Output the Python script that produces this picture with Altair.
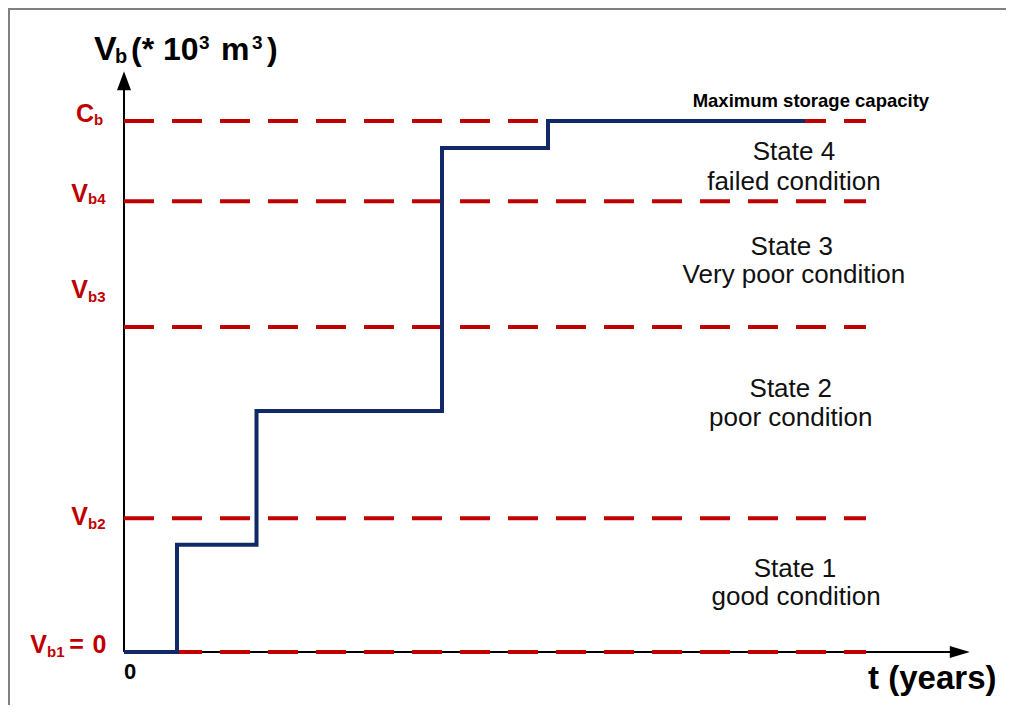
import altair as alt
import pandas as pd

# ---------------- data ----------------
level_names = ["C_b", "V_b4", "V_b3", "V_b2", "V_b1"]
level_values = [100.0, 84.9, 61.2, 25.2, 0.0]
level_start_t = 0.0
level_end_t = 14.0

step_t = [0.0, 1.0, 2.5, 6.0, 8.0, 12.85]
step_v = [0.0, 20.2, 45.4, 94.9, 100.0, 100.0]

axis_x_end = 15.68
axis_y_end = 106.2
arrow_dir = ["up", "right"]
arrow_t = [0.0, 15.77]
arrow_v = [107.6, 0.0]

state_text = ["State 4", "failed condition", "State 3", "Very poor condition",
              "State 2", "poor condition", "State 1", "good condition"]
state_t = [12.64, 12.64, 12.60, 12.64, 12.58, 12.58, 12.66, 12.68]
state_v = [92.66, 87.0, 74.76, 69.49, 48.02, 42.56, 14.12, 8.85]

lab_main = ["C", "V", "V", "V", "V"]
lab_sub = ["b", "b4", "b3", "b2", "b1"]
lab_t = [-0.566, -0.679, -0.679, -0.679, -1.453]
lab_v = [99.8, 84.8, 66.7, 23.9, -0.19]
lab_sub_v = [99.2, 84.4, 65.9, 23.2, -0.94]
eq_text = ["=", "0"]
eq_t = [-0.896, -0.462]
eq_v = [-0.19, -0.19]

blk_text = ["V", "b", "(* 10", "3", "m", "3", ")", "0", "t (years)"]
blk_t = [-0.566, -0.17, 0.132, 1.415, 1.83, 2.415, 2.70, 0.0, 14.04]
blk_v = [111.5, 110.9, 111.5, 113.56, 111.5, 113.56, 111.5, -5.08, -6.97]
blk_fs = [34, 20, 32, 19, 32, 19, 32, 22, 33]

cap_text = ["Maximum storage capacity"]
cap_t = [12.96]
cap_v = [102.6]

# ---------------- styling ----------------
RED = "#c00000"
NAVY = "#0f2a66"
FONT = "Liberation Sans"
W, H = 998, 697
XD = [(8 - 124) / 53, (1006 - 124) / 53]
YD = [(652 - 705) / 5.31, (652 - 8) / 5.31]

xs = alt.Scale(domain=XD, nice=False, zero=False)
ys = alt.Scale(domain=YD, nice=False, zero=False)


def X(f):
    return alt.X(f, type="quantitative", scale=xs, axis=None)


def Y(f):
    return alt.Y(f, type="quantitative", scale=ys, axis=None)


levels_df = pd.DataFrame({"name": level_names, "v": level_values,
                          "t0": level_start_t, "t1": level_end_t})
step_df = pd.DataFrame({"t": step_t, "v": step_v})
axes_df = pd.DataFrame({"t": [0.0, 0.0], "t2": [axis_x_end, 0.0],
                        "v": [0.0, 0.0], "v2": [0.0, axis_y_end]})
arrow_df = pd.DataFrame({"dir": arrow_dir, "t": arrow_t, "v": arrow_v})
state_df = pd.DataFrame({"text": state_text, "t": state_t, "v": state_v})
lab_df = pd.DataFrame({"main": lab_main, "sub": lab_sub, "t": lab_t,
                       "v": lab_v, "vs": lab_sub_v})
eq_df = pd.DataFrame({"text": eq_text, "t": eq_t, "v": eq_v})
blk_df = pd.DataFrame({"text": blk_text, "t": blk_t, "v": blk_v, "fs": blk_fs})
cap_df = pd.DataFrame({"text": cap_text, "t": cap_t, "v": cap_v})

frame_top = alt.Chart(pd.DataFrame({"k": ["top"]})).mark_rule(
    color="#808080", strokeWidth=2
).encode(x=alt.value(0), x2=alt.value(W), y=alt.value(1))
frame_left = alt.Chart(pd.DataFrame({"k": ["left"]})).mark_rule(
    color="#808080", strokeWidth=2
).encode(x=alt.value(1), y=alt.value(0), y2=alt.value(H))

axes = alt.Chart(axes_df).mark_rule(color="black", strokeWidth=2).encode(
    x=X("t"), x2="t2", y=Y("v"), y2="v2")

arrows = alt.Chart(arrow_df).mark_point(filled=True, size=400, opacity=1,
                                        color="black", strokeWidth=0).encode(
    x=X("t"), y=Y("v"),
    shape=alt.Shape("dir:N", scale=alt.Scale(
        domain=["up", "right"],
        range=["M0,-0.95L0.7,0.95L-0.7,0.95Z", "M1,0L-1,-0.6L-1,0.6Z"]),
        legend=None))

dashes = alt.Chart(levels_df).mark_rule(
    color=RED, strokeWidth=4, strokeDash=[30, 18]
).encode(x=X("t0"), x2="t1", y=Y("v"))

step = alt.Chart(step_df).mark_line(
    interpolate="step-after", color=NAVY, strokeWidth=4
).encode(x=X("t"), y=Y("v"), order="t:Q")

states = alt.Chart(state_df).mark_text(
    font=FONT, fontSize=26, align="center", baseline="alphabetic", color="#111111"
).encode(x=X("t"), y=Y("v"), text="text:N")

lab_main_l = alt.Chart(lab_df).mark_text(
    font=FONT, fontSize=25, fontWeight="bold", align="right",
    baseline="alphabetic", color=RED
).encode(x=X("t"), y=Y("v"), text="main:N")

lab_sub_l = alt.Chart(lab_df).mark_text(
    font=FONT, fontSize=15, fontWeight="bold", align="left",
    baseline="alphabetic", color=RED
).encode(x=X("t"), y=Y("vs"), text="sub:N")

eq_l = alt.Chart(eq_df).mark_text(
    font=FONT, fontSize=25, fontWeight="bold", align="center",
    baseline="alphabetic", color=RED
).encode(x=X("t"), y=Y("v"), text="text:N")

blk_l = alt.Chart(blk_df).mark_text(
    font=FONT, fontWeight="bold", align="left", baseline="alphabetic",
    color="black"
).encode(x=X("t"), y=Y("v"), text="text:N",
         size=alt.Size("fs:Q", scale=None, legend=None))

cap_l = alt.Chart(cap_df).mark_text(
    font=FONT, fontSize=18.5, fontWeight="bold", align="center",
    baseline="alphabetic", color="black"
).encode(x=X("t"), y=Y("v"), text="text:N")

chart = alt.layer(
    frame_top, frame_left, axes, arrows, dashes, step, states,
    lab_main_l, lab_sub_l, eq_l, blk_l, cap_l
).properties(
    width=W, height=H, padding=0,
    autosize=alt.AutoSizeParams(type="none")
).configure_view(stroke="transparent", strokeWidth=0)

chart.save("out.html", embed_options={"renderer": "svg", "actions": False})
